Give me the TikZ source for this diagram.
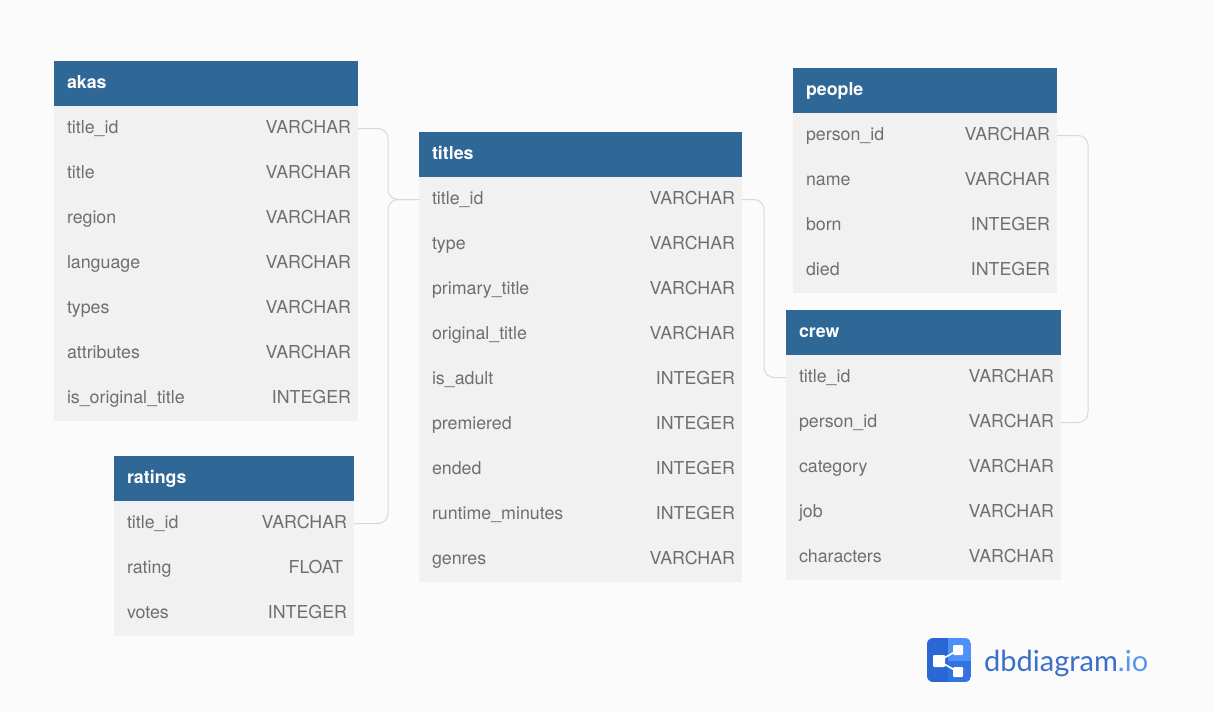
\documentclass[tikz,border=0pt]{standalone}
\usepackage{fontspec}
\setmainfont{TeX Gyre Heros}
\newfontfamily\logofont{Lato}
\usetikzlibrary{positioning}
\definecolor{pagebg}{HTML}{FBFBFC}
\definecolor{headblue}{HTML}{2F6796}
\definecolor{rowgray}{HTML}{F1F1F1}
\definecolor{fieldgray}{HTML}{6F6F6F}
\definecolor{linkgray}{HTML}{D8D8D8}
\definecolor{logodark}{HTML}{2B67D4}
\definecolor{logomid}{HTML}{3273E0}
\definecolor{logolight}{HTML}{4D90F8}
\definecolor{logotext}{HTML}{3B70C8}
\definecolor{logodot}{HTML}{5B96EC}
\newcommand{\field}[2]{\hspace*{6pt}#1\hfill #2}
\begin{document}
\begin{tikzpicture}[x=1pt, y=-1pt, font=\fontsize{17.8}{21}\selectfont,
  cell/.style={inner xsep=7pt, inner ysep=0pt, outer sep=0pt, minimum height=45pt,
    text height=13pt, text depth=4pt},
  head/.style={cell, fill=headblue, text=white, anchor=north west, text width=#1-14pt},
  row/.style={cell, fill=rowgray, text=fieldgray, text width=#1-14pt},
  link/.style={draw=linkgray, line width=1pt, rounded corners=10pt}]
  \fill[pagebg] (0,0) rectangle (1215,712);
  \useasboundingbox (0,0) rectangle (1215,712);

  % akas
  \node[head=304pt] (akas) at (54,61) {\hspace*{6pt}\textbf{akas}};
  \node[row=304pt, below=0pt of akas] (akas-id) {\field{title\_id}{VARCHAR}};
  \node[row=304pt, below=0pt of akas-id] (akas-title) {\field{title}{VARCHAR}};
  \node[row=304pt, below=0pt of akas-title] (akas-region) {\field{region}{VARCHAR}};
  \node[row=304pt, below=0pt of akas-region] (akas-lang) {\field{language}{VARCHAR}};
  \node[row=304pt, below=0pt of akas-lang] (akas-types) {\field{types}{VARCHAR}};
  \node[row=304pt, below=0pt of akas-types] (akas-attr) {\field{attributes}{VARCHAR}};
  \node[row=304pt, below=0pt of akas-attr] (akas-orig) {\field{is\_original\_title}{INTEGER}};

  % ratings
  \node[head=240pt] (ratings) at (114,456) {\hspace*{6pt}\textbf{ratings}};
  \node[row=240pt, below=0pt of ratings] (ratings-id) {\field{title\_id}{VARCHAR}};
  \node[row=240pt, below=0pt of ratings-id] (ratings-rating) {\field{rating}{FLOAT\hspace*{4pt}}};
  \node[row=240pt, below=0pt of ratings-rating] (ratings-votes) {\field{votes}{INTEGER}};

  % titles
  \node[head=323pt] (titles) at (419,132) {\hspace*{6pt}\textbf{titles}};
  \node[row=323pt, below=0pt of titles] (titles-id) {\field{title\_id}{VARCHAR}};
  \node[row=323pt, below=0pt of titles-id] (titles-type) {\field{type}{VARCHAR}};
  \node[row=323pt, below=0pt of titles-type] (titles-primary) {\field{primary\_title}{VARCHAR}};
  \node[row=323pt, below=0pt of titles-primary] (titles-original) {\field{original\_title}{VARCHAR}};
  \node[row=323pt, below=0pt of titles-original] (titles-adult) {\field{is\_adult}{INTEGER}};
  \node[row=323pt, below=0pt of titles-adult] (titles-premiered) {\field{premiered}{INTEGER}};
  \node[row=323pt, below=0pt of titles-premiered] (titles-ended) {\field{ended}{INTEGER}};
  \node[row=323pt, below=0pt of titles-ended] (titles-runtime) {\field{runtime\_minutes}{INTEGER}};
  \node[row=323pt, below=0pt of titles-runtime] (titles-genres) {\field{genres}{VARCHAR}};

  % people
  \node[head=264pt] (people) at (793,68) {\hspace*{6pt}\textbf{people}};
  \node[row=264pt, below=0pt of people] (people-id) {\field{person\_id}{VARCHAR}};
  \node[row=264pt, below=0pt of people-id] (people-name) {\field{name}{VARCHAR}};
  \node[row=264pt, below=0pt of people-name] (people-born) {\field{born}{INTEGER}};
  \node[row=264pt, below=0pt of people-born] (people-died) {\field{died}{INTEGER}};

  % crew
  \node[head=275pt] (crew) at (786,310) {\hspace*{6pt}\textbf{crew}};
  \node[row=275pt, below=0pt of crew] (crew-title) {\field{title\_id}{VARCHAR}};
  \node[row=275pt, below=0pt of crew-title] (crew-person) {\field{person\_id}{VARCHAR}};
  \node[row=275pt, below=0pt of crew-person] (crew-category) {\field{category}{VARCHAR}};
  \node[row=275pt, below=0pt of crew-category] (crew-job) {\field{job}{VARCHAR}};
  \node[row=275pt, below=0pt of crew-job] (crew-chars) {\field{characters}{VARCHAR}};

  \draw[link] (akas-id.east) -- ++(30,0) |- (titles-id.west);
  \draw[link] (ratings-id.east) -- ++(34,0) |- (titles-id.west);
  \draw[link] (titles-id.east) -- ++(22,0) |- (crew-title.west);
  \draw[link] (people-id.east) -- ++(31,0) |- (crew-person.east);

  % logo
  \begin{scope}
    \clip[rounded corners=6pt] (927,638) rectangle (971,682);
    \fill[logodark] (927,638) rectangle (948,682);
    \fill[logolight] (948,638) rectangle (971,661);
    \fill[logomid] (948,661) rectangle (971,682);
  \end{scope}
  \draw[white, line width=1.6pt] (958,650) -- (939,661) -- (958,672);
  \fill[white, rounded corners=1pt] (933,655) rectangle (945,667);
  \fill[white, rounded corners=1pt] (953,645) rectangle (963,655);
  \fill[white, rounded corners=1pt] (953,667) rectangle (963,677);
  \node[anchor=west, inner sep=0pt, text=logotext] (logo) at (984,663)
    {\logofont\fontsize{29}{33}\selectfont dbdiagram\textcolor{logodot}{.io}};
\end{tikzpicture}
\end{document}
